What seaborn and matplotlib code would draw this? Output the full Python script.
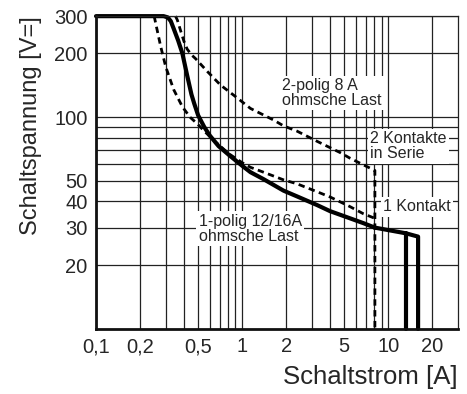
import numpy as np
import pandas as pd
import matplotlib.pyplot as plt
import seaborn as sns

# Kennlinien (Schaltstrom [A], Schaltspannung [V])
solid_i = [0.1, 0.29, 0.31, 0.325, 0.34, 0.365, 0.39, 0.42, 0.45, 0.47, 0.5, 0.55, 0.6, 0.69, 0.83,
           1.0, 1.14, 1.4, 1.92, 2.37, 3.25, 4.0, 5.48, 6.76, 8.1, 13.2, 16.0, 16.0]
solid_u = [300, 300, 296, 284, 262, 230, 200, 158, 128, 116, 102, 90, 82, 73, 65.5,
           59, 55, 51, 45, 42.3, 38.5, 36, 33.3, 31.6, 30.1, 28.3, 27.3, 10]

relay12_i = [13.2, 13.2]
relay12_u = [28.3, 10]

kontakt1_i = [0.25, 0.256, 0.277, 0.30, 0.34, 0.39, 0.44, 0.49, 0.55, 0.65, 0.75, 0.83, 1.0, 1.14,
              1.4, 1.92, 2.37, 3.25, 4.0, 5.48, 6.76, 8.1]
kontakt1_u = [300, 278, 216, 173, 135, 112, 100, 93.5, 86, 77, 70.5, 66.5, 61, 58,
              55, 50.6, 48.5, 44.5, 42, 37.8, 35, 33.3]

kontakt2_i = [0.35, 0.36, 0.38, 0.40, 0.42, 0.45, 0.48, 0.58, 0.71, 0.93, 1.14, 1.64, 1.92, 2.37,
              3.25, 4.7, 5.48, 8.1, 8.1]
kontakt2_u = [300, 288, 255, 228, 210, 197, 189, 164, 142, 123, 110, 97, 91, 86,
              77, 68, 64, 56, 10]

x_ticks = [0.1, 0.2, 0.5, 1, 2, 5, 10, 20]
x_ticklabels = ["0,1", "0,2", "0,5", "1", "2", "5", "10", "20"]
x_minor = [0.3, 0.4, 0.6, 0.7, 0.8, 0.9, 3, 4, 6, 7, 8, 9]
y_ticks = [20, 30, 40, 50, 100, 200, 300]
y_ticklabels = ["20", "30", "40", "50", "100", "200", "300"]
y_minor = [60, 70, 80, 90]

sns.set_style("white")
plt.rcParams['font.family'] = ['Liberation Sans', 'DejaVu Sans']

fig = plt.figure(figsize=(4.67, 3.94), dpi=100)
ax = fig.add_axes([0.2056, 0.165, 0.7751, 0.794])

ax.set_xscale('log')
ax.set_yscale('log')

dash = (0, (2.3, 1.6))
sns.lineplot(x=kontakt2_i, y=kontakt2_u, sort=False, estimator=None, color='black', lw=2.0, ax=ax)
ax.lines[-1].set_linestyle(dash)
sns.lineplot(x=kontakt1_i, y=kontakt1_u, sort=False, estimator=None, color='black', lw=2.0, ax=ax)
ax.lines[-1].set_linestyle(dash)
sns.lineplot(x=solid_i, y=solid_u, sort=False, estimator=None, color='black', lw=3.0, ax=ax)
sns.lineplot(x=relay12_i, y=relay12_u, sort=False, estimator=None, color='black', lw=3.0, ax=ax)
for ln in ax.lines:
    ln.set_clip_on(False)
    ln.set_solid_joinstyle('round')

ax.set_xlim(0.1, 30)
ax.set_ylim(10, 300)

ax.set_xticks(x_ticks)
ax.set_xticklabels(x_ticklabels)
ax.set_xticks(x_minor, minor=True)
ax.set_yticks(y_ticks)
ax.set_yticklabels(y_ticklabels)
ax.set_yticks(y_minor, minor=True)
ax.tick_params(which='major', direction='out', length=3, width=1, labelsize=14.5, pad=3, color='#222222')
ax.tick_params(which='minor', length=0)

ax.grid(True, which='both', color='#222222', lw=0.9)
ax.set_axisbelow(True)

for s in ['left', 'bottom']:
    ax.spines[s].set_linewidth(2.0)
    ax.spines[s].set_color('#111111')
for s in ['top', 'right']:
    ax.spines[s].set_linewidth(0.9)
    ax.spines[s].set_color('#222222')

box = dict(facecolor='white', edgecolor='none', pad=1.5)
txt = dict(fontsize=11.5, ha='left', va='center', linespacing=1.05, bbox=box, zorder=3)
ax.text(1.88, 130, "2-polig 8 A\nohmsche Last", **txt)
ax.text(7.5, 73, "2 Kontakte\nin Serie", **txt)
ax.text(9.2, 37.7, "1 Kontakt", **txt)
ax.text(0.503, 29.7, "1-polig 12/16A\nohmsche Last", **txt)

ax.set_ylabel("Schaltspannung [V=]", fontsize=17, loc='top', labelpad=9)
ax.set_xlabel("Schaltstrom [A]", fontsize=18.5, loc='right', labelpad=6)

fig.savefig("out.png", dpi=100)
